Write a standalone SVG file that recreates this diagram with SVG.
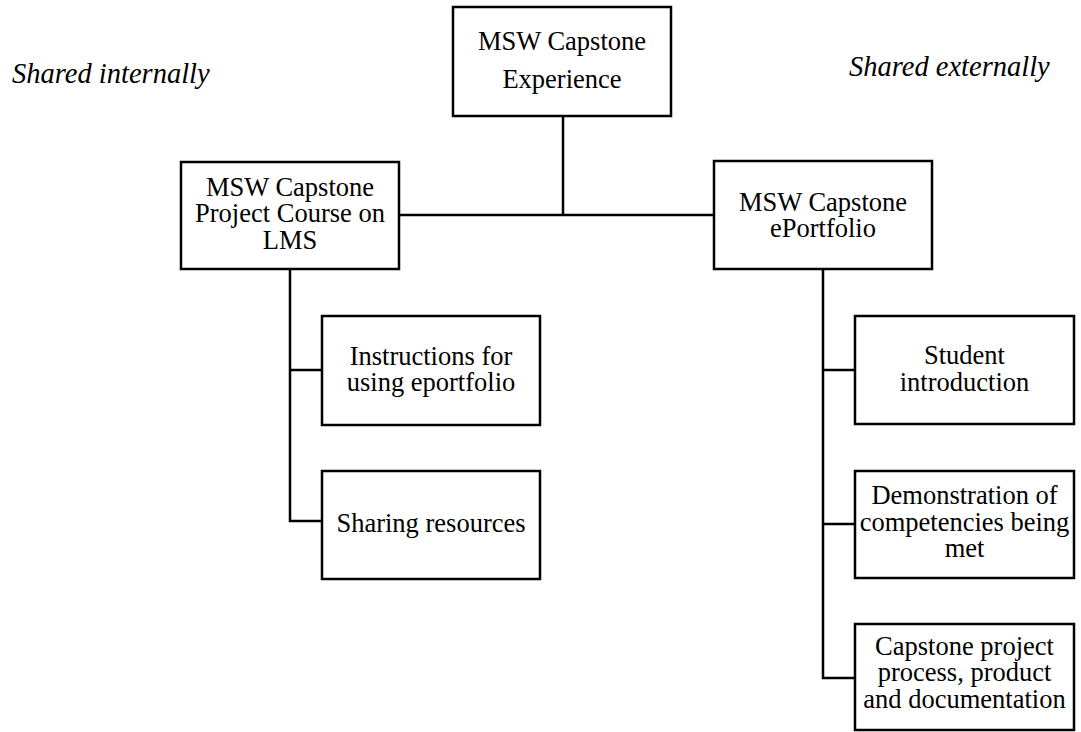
<svg xmlns="http://www.w3.org/2000/svg" width="1081" height="732" viewBox="0 0 1081 732">
<style>
.box{fill:#fff;stroke:#000;stroke-width:2.5}
.t{font-family:"Liberation Serif","Times New Roman",serif;font-size:26.5px;fill:#000;text-anchor:middle}
.it{font-family:"Liberation Serif","Times New Roman",serif;font-size:28.5px;font-style:italic;fill:#000}
.c{fill:none;stroke:#000;stroke-width:2.5}
</style>
<rect width="1081" height="732" fill="#fff"/>
<text class="it" x="12" y="83">Shared internally</text>
<text class="it" x="849" y="76">Shared externally</text>
<g id="connectors">
<path class="c" d="M563,116 V215 M399,215 H714"/>
<path class="c" d="M290,269 V521 H322 M290,370 H322"/>
<path class="c" d="M823,269 V678 H855 M823,370 H855 M823,524 H855"/>
</g>
<g id="n-experience">
<rect class="box" x="453" y="7" width="218" height="109"/>
<text class="t" x="562" y="50">MSW Capstone</text>
<text class="t" x="562" y="88">Experience</text>
</g>
<g id="n-course">
<rect class="box" x="181" y="162" width="218" height="107"/>
<text class="t" x="290" y="196">MSW Capstone</text>
<text class="t" x="290" y="222">Project Course on</text>
<text class="t" x="290" y="249">LMS</text>
</g>
<g id="n-eportfolio">
<rect class="box" x="714" y="161" width="218" height="108"/>
<text class="t" x="823" y="211">MSW Capstone</text>
<text class="t" x="823" y="237">ePortfolio</text>
</g>
<g id="n-instructions">
<rect class="box" x="322" y="316" width="218" height="109"/>
<text class="t" x="431" y="365">Instructions for</text>
<text class="t" x="431" y="391">using eportfolio</text>
</g>
<g id="n-sharing">
<rect class="box" x="322" y="471" width="218" height="108"/>
<text class="t" x="431" y="532">Sharing resources</text>
</g>
<g id="n-student">
<rect class="box" x="855" y="316" width="219" height="108"/>
<text class="t" x="964.5" y="364">Student</text>
<text class="t" x="964.5" y="391">introduction</text>
</g>
<g id="n-demo">
<rect class="box" x="855" y="471" width="219" height="107"/>
<text class="t" x="964.5" y="504">Demonstration of</text>
<text class="t" x="964.5" y="531">competencies being</text>
<text class="t" x="964.5" y="557">met</text>
</g>
<g id="n-capstone">
<rect class="box" x="855" y="624" width="219" height="106"/>
<text class="t" x="964.5" y="655">Capstone project</text>
<text class="t" x="964.5" y="681">process, product</text>
<text class="t" x="964.5" y="708">and documentation</text>
</g>
</svg>
